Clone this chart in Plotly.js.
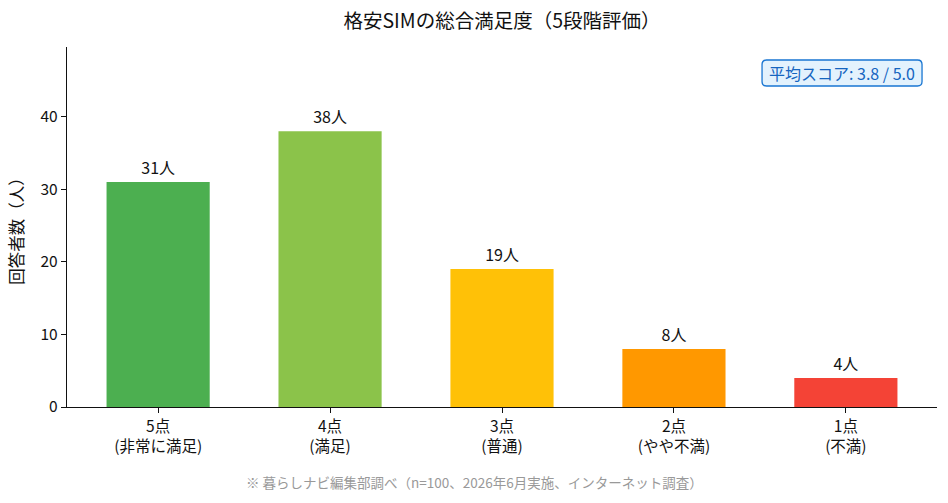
<!DOCTYPE html>
<html>
<head>
<meta charset="utf-8">
<script src="https://cdn.plot.ly/plotly-3.0.1.min.js"></script>
<style>
  html, body { margin: 0; padding: 0; background: #ffffff; }
  #chart { width: 948px; height: 503px; }
</style>
</head>
<body>
<div id="chart"></div>
<script>
// 5段階評価ごとの回答者数
const categories = ["5点<br>(非常に満足)", "4点<br>(満足)", "3点<br>(普通)", "2点<br>(やや不満)", "1点<br>(不満)"];
const counts = [31, 38, 19, 8, 4];
const barColors = ["#4CAF50", "#8BC34A", "#FFC107", "#FF9800", "#F44336"];
const averageLabel = "平均スコア: 3.8 / 5.0";
const sourceNote = "※ 暮らしナビ編集部調べ（n=100、2026年6月実施、インターネット調査）";

const FONT = "'Noto Sans CJK JP', 'Noto Sans', sans-serif";

const trace = {
  type: "bar",
  x: categories.map((_, i) => i),
  y: counts,
  width: 0.6,
  marker: { color: barColors, line: { width: 0 } },
  text: counts.map(v => v + "人"),
  textposition: "outside",
  cliponaxis: false,
  textfont: { family: FONT, size: 16, color: "#111111" },
  hoverinfo: "skip"
};

// 平均スコアの角丸ボックス（paper座標）
const box = { x0: 0.7989, x1: 0.9828, y0: 0.8917, y1: 0.9639, rx: 0.0052, ry: 0.0125 };
const roundedBox =
  `M ${box.x0 + box.rx},${box.y1} L ${box.x1 - box.rx},${box.y1} ` +
  `Q ${box.x1},${box.y1} ${box.x1},${box.y1 - box.ry} L ${box.x1},${box.y0 + box.ry} ` +
  `Q ${box.x1},${box.y0} ${box.x1 - box.rx},${box.y0} L ${box.x0 + box.rx},${box.y0} ` +
  `Q ${box.x0},${box.y0} ${box.x0},${box.y0 + box.ry} L ${box.x0},${box.y1 - box.ry} ` +
  `Q ${box.x0},${box.y1} ${box.x0 + box.rx},${box.y1} Z`;

const layout = {
  width: 948,
  height: 503,
  margin: { l: 67, r: 11, t: 47, b: 96 },
  paper_bgcolor: "#ffffff",
  plot_bgcolor: "#ffffff",
  font: { family: FONT, color: "#111111" },
  showlegend: false,
  title: {
    text: "格安SIMの総合満足度（5段階評価）",
    font: { family: FONT, size: 19.5, color: "#111111" },
    x: 0.5, xref: "paper", xanchor: "center",
    y: 0.958, yref: "container", yanchor: "middle"
  },
  xaxis: {
    range: [-0.53, 4.53],
    tickmode: "array",
    tickvals: categories.map((_, i) => i),
    ticktext: categories,
    ticks: "outside",
    ticklen: 5,
    tickwidth: 1,
    tickcolor: "#111111",
    showline: true,
    linecolor: "#111111",
    linewidth: 1.2,
    showgrid: false,
    zeroline: false,
    tickfont: { family: FONT, size: 15.5, color: "#111111" },
    fixedrange: true
  },
  yaxis: {
    range: [0, 49.6],
    tickmode: "array",
    tickvals: [0, 10, 20, 30, 40],
    ticks: "outside",
    ticklen: 5,
    tickwidth: 1,
    tickcolor: "#111111",
    showline: true,
    linecolor: "#111111",
    linewidth: 1.2,
    showgrid: false,
    zeroline: false,
    tickfont: { family: FONT, size: 15.5, color: "#111111" },
    title: { text: "回答者数（人）", font: { family: FONT, size: 16.5, color: "#111111" }, standoff: 12 },
    fixedrange: true
  },
  shapes: [
    {
      type: "path",
      xref: "paper", yref: "paper",
      path: roundedBox,
      fillcolor: "#E3F2FD",
      line: { color: "#1976D2", width: 1.3 },
      layer: "above"
    }
  ],
  annotations: [
    {
      text: averageLabel,
      xref: "paper", yref: "paper",
      x: (box.x0 + box.x1) / 2, y: (box.y0 + box.y1) / 2,
      xanchor: "center", yanchor: "middle",
      showarrow: false,
      font: { family: FONT, size: 16, color: "#1565C0" }
    },
    {
      text: sourceNote,
      xref: "paper", yref: "paper",
      x: (474 - 67) / (948 - 67 - 11), y: -0.208,
      xanchor: "center", yanchor: "middle",
      showarrow: false,
      font: { family: FONT, size: 13.5, color: "#999999" }
    }
  ]
};

Plotly.newPlot("chart", [trace], layout, { displayModeBar: false, staticPlot: true });
</script>
</body>
</html>
